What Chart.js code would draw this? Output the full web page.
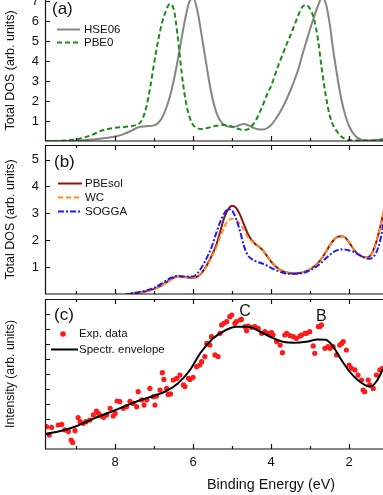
<!DOCTYPE html>
<html>
<head>
<meta charset="utf-8">
<script src="https://cdn.jsdelivr.net/npm/chart.js@4.4.0/dist/chart.umd.min.js"></script>
<style>
  html, body { margin: 0; padding: 0; background: #fff; }
  #wrap { position: relative; width: 383px; height: 495px; overflow: hidden; }
  .panel { position: absolute; left: 0; width: 383px; }
  #panelA { top: 0; height: 150px; }
  #panelB { top: 145px; height: 155px; }
  #panelC { top: 299px; height: 196px; }
</style>
</head>
<body>
<div id="wrap">
  <div class="panel" id="panelA"><canvas id="chartA"></canvas></div>
  <div class="panel" id="panelB"><canvas id="chartB"></canvas></div>
  <div class="panel" id="panelC"><canvas id="chartC"></canvas></div>
</div>
<script>
/* ~~~~~~~~~~ DATA ~~~~~~~~~~ */

// shared x ticks (binding energy, eV)
const xMajor = [2, 4, 6, 8];
const xMinor = [3, 5, 7, 9];

// panel (a): hybrid functionals
const energyA = [9.8, 9.6, 9.4, 9.2, 9.0, 8.8, 8.6, 8.4, 8.2, 8.0, 7.8, 7.6,
  7.5, 7.4, 7.3, 7.2, 7.1, 7.0, 6.9, 6.8, 6.7, 6.6, 6.5, 6.4, 6.3, 6.2, 6.1, 6.0, 5.9, 5.8, 5.7, 5.6, 5.5, 5.4, 5.3, 5.2, 5.1, 5.0,
  4.9, 4.8, 4.7, 4.6, 4.5, 4.4, 4.3, 4.2, 4.1, 4.0, 3.9, 3.8, 3.7, 3.6, 3.5, 3.4, 3.3, 3.2, 3.1, 3.0,
  2.9, 2.8, 2.7, 2.6, 2.5, 2.4, 2.3, 2.2, 2.1, 2.0, 1.9, 1.8, 1.6, 1.4, 1.2, 1.1];
const hse06 = [0, 0, 0, 0.01, 0.02, 0.04, 0.07, 0.11, 0.16, 0.22, 0.33, 0.5,
  0.6, 0.68, 0.72, 0.74, 0.75, 0.78, 0.9, 1.15, 1.6, 2.2, 3.0, 4.0, 5.1, 6.15, 6.95, 7.15, 6.6, 5.5, 4.3, 3.1, 2.1, 1.4, 1.0, 0.8, 0.72, 0.7,
  0.73, 0.8, 0.85, 0.8, 0.7, 0.62, 0.58, 0.58, 0.65, 0.8, 1.05, 1.35, 1.7, 2.1, 2.55, 3.05, 3.6, 4.3, 4.95, 5.6,
  6.2, 6.75, 7.15, 6.9, 5.9, 4.45, 3.2, 2.1, 1.3, 0.75, 0.4, 0.18, 0.03, 0.04, 0.07, 0.08];
const pbe0 = [0, 0, 0.01, 0.03, 0.08, 0.17, 0.3, 0.48, 0.6, 0.66, 0.7, 0.74,
  0.78, 0.85, 1.1, 1.7, 2.7, 3.9, 5.0, 5.9, 6.5, 6.85, 6.6, 5.3, 3.5, 2.1, 1.25, 0.8, 0.65, 0.6, 0.62, 0.67, 0.72, 0.76, 0.79, 0.8, 0.78, 0.72,
  0.65, 0.58, 0.55, 0.58, 0.75, 1.0, 1.4, 1.85, 2.35, 2.75, 3.3, 3.85, 4.35, 4.85, 5.3, 5.8, 6.3, 6.7, 6.8, 6.6,
  6.1, 5.1, 3.6, 2.3, 1.3, 0.75, 0.45, 0.22, 0.1, 0.05, 0.03, 0.02, 0.02, 0.03, 0.06, 0.08];
const yTicksA = [1, 2, 3, 4, 5, 6, 7];

// panel (b): GGA functionals
const energyB = [7.8, 7.6, 7.4, 7.2, 7.0, 6.8, 6.6, 6.4, 6.2, 6.0,
  5.9, 5.8, 5.7, 5.6, 5.5, 5.4, 5.3, 5.2, 5.1, 5.0, 4.9, 4.8, 4.7, 4.6, 4.5, 4.4, 4.3, 4.2, 4.1, 4.0,
  3.9, 3.8, 3.7, 3.6, 3.5, 3.4, 3.3, 3.2, 3.1, 3.0, 2.9, 2.8, 2.7, 2.6, 2.5, 2.4, 2.3, 2.2, 2.1, 2.0,
  1.9, 1.8, 1.7, 1.6, 1.5, 1.4, 1.3, 1.2, 1.1];
const pbesol = [-0.05, 0.0, 0.04, 0.1, 0.19, 0.33, 0.52, 0.65, 0.63, 0.6,
  0.64, 0.75, 0.95, 1.2, 1.5, 1.85, 2.35, 2.85, 3.15, 3.28, 3.2, 2.95, 2.6, 2.25, 2.0, 1.85, 1.75, 1.6, 1.4, 1.2,
  1.05, 0.93, 0.85, 0.8, 0.77, 0.76, 0.77, 0.8, 0.85, 0.92, 1.02, 1.15, 1.33, 1.55, 1.8, 2.0, 2.12, 2.15, 2.1, 1.92,
  1.7, 1.52, 1.42, 1.37, 1.38, 1.55, 1.95, 2.5, 3.15];
const wc = [-0.05, 0.0, 0.03, 0.09, 0.18, 0.31, 0.5, 0.63, 0.62, 0.6,
  0.64, 0.74, 0.93, 1.17, 1.45, 1.75, 2.15, 2.5, 2.72, 2.8, 2.75, 2.6, 2.38, 2.12, 1.97, 1.85, 1.75, 1.6, 1.4, 1.2,
  1.05, 0.93, 0.85, 0.8, 0.77, 0.76, 0.77, 0.8, 0.85, 0.92, 1.02, 1.15, 1.33, 1.55, 1.8, 2.0, 2.12, 2.15, 2.1, 1.92,
  1.7, 1.52, 1.42, 1.37, 1.38, 1.55, 1.95, 2.5, 3.15];
const sogga = [-0.05, 0.02, 0.07, 0.13, 0.23, 0.4, 0.58, 0.68, 0.65, 0.65,
  0.75, 0.95, 1.2, 1.5, 1.85, 2.3, 2.7, 3.0, 3.15, 3.1, 2.8, 2.35, 1.8, 1.45, 1.3, 1.22, 1.17, 1.12, 1.05, 0.97,
  0.9, 0.84, 0.79, 0.76, 0.75, 0.75, 0.76, 0.78, 0.82, 0.88, 0.96, 1.06, 1.18, 1.32, 1.45, 1.56, 1.63, 1.66, 1.65, 1.62,
  1.58, 1.5, 1.42, 1.35, 1.31, 1.35, 1.55, 2.0, 2.8];
const yTicksB = [1, 2, 3, 4, 5];

// panel (c): experiment
const expEnergy = [9.76, 9.69, 9.63, 9.46, 9.37, 9.29, 9.20, 9.13, 9.09, 9.03,
  8.95, 8.90, 8.82, 8.75, 8.65, 8.56, 8.48, 8.43, 8.35, 8.30,
  8.22, 8.13, 8.05, 8.00, 7.95, 7.88, 7.79, 7.71, 7.62, 7.54,
  7.45, 7.41, 7.32, 7.26, 7.19, 7.11, 7.02, 6.98, 6.94, 6.85,
  6.79, 6.75, 6.68, 6.64, 6.58, 6.51, 6.42, 6.34, 6.25, 6.21,
  6.12, 6.08, 6.00, 5.91, 5.83, 5.78, 5.70, 5.65, 5.57, 5.53,
  5.44, 5.36, 5.31, 5.27, 5.21, 5.14, 5.06, 5.01, 4.93, 4.89,
  4.80, 4.76, 4.67, 4.63, 4.59, 4.50, 4.42, 4.33, 4.24, 4.16,
  4.07, 3.99, 3.95, 3.86, 3.77, 3.71, 3.65, 3.60, 3.52, 3.43,
  3.35, 3.26, 3.22, 3.13, 3.09, 3.01, 2.92, 2.88, 2.79, 2.75,
  2.71, 2.62, 2.54, 2.49, 2.41, 2.32, 2.24, 2.19, 2.15, 2.07,
  2.00, 1.94, 1.85, 1.77, 1.68, 1.64, 1.60, 1.51, 1.47, 1.38,
  1.30, 1.21, 1.14];
const expIntensity = [1.49, 0.93, 1.44, 1.60, 1.64, 1.27, 1.16, 0.60, 0.44, 1.22,
  2.09, 1.82, 1.71, 1.82, 1.93, 2.27, 2.53, 2.38, 2.20, 2.11,
  2.27, 2.71, 2.20, 2.38, 3.20, 3.16, 2.71, 2.82, 3.18, 3.04,
  2.82, 3.82, 3.27, 2.93, 3.27, 4.04, 3.49, 2.93, 3.53, 3.93,
  5.09, 4.64, 4.04, 3.64, 3.67, 4.60, 4.71, 4.93, 4.27, 4.16,
  4.71, 4.64, 4.78, 5.49, 5.60, 5.82, 6.16, 7.04, 6.93, 7.49,
  6.27, 6.16, 7.71, 8.27, 8.38, 8.49, 8.82, 8.93, 8.38, 8.49,
  8.60, 8.64, 8.16, 7.89, 8.20, 8.11, 8.16, 8.04, 7.71, 7.82,
  7.71, 7.76, 7.60, 7.16, 6.93, 6.42, 7.60, 7.71, 7.56, 7.49,
  7.38, 7.53, 7.60, 7.71, 7.71, 7.82, 6.87, 6.38, 8.16, 8.16,
  8.27, 6.71, 6.82, 6.71, 6.82, 6.27, 6.93, 7.04, 7.16, 6.60,
  5.60, 5.38, 5.27, 4.93, 4.60, 3.93, 3.82, 4.60, 4.27, 4.04,
  4.93, 5.27, 5.38];
const envEnergy = [9.8, 9.4, 9.0, 8.6, 8.2, 7.8, 7.4, 7.0, 6.7, 6.4, 6.1, 5.8, 5.5, 5.2, 4.9, 4.6,
  4.3, 4.0, 3.7, 3.4, 3.1, 2.8, 2.6, 2.4, 2.2, 2.0, 1.8, 1.6, 1.45, 1.3, 1.13];
const envIntensity = [1.0, 1.2, 1.52, 1.98, 2.38, 2.8, 3.22, 3.55, 3.85, 4.35, 5.2, 6.45, 7.35, 7.88, 8.15, 8.15,
  7.85, 7.45, 7.15, 7.08, 7.15, 7.3, 7.28, 6.8, 5.95, 5.2, 4.65, 4.28, 4.16, 4.5, 5.33];
const yTicksC = [1, 2, 3, 4, 5, 6, 7, 8, 9];

/* ~~~~~~~~~~ HELPERS ~~~~~~~~~~ */

const FONT = "'Liberation Sans', Arial, sans-serif";
const xRange = { min: 1.13, max: 9.8 };

const toPoints = (xs, ys) => xs.map((x, i) => ({ x: x, y: ys[i] }));

const curve = (label, xs, ys, color, dash, order) => ({
  label: label,
  data: toPoints(xs, ys),
  borderColor: color,
  borderWidth: 2,
  borderDash: dash,
  pointRadius: 0,
  fill: false,
  cubicInterpolationMode: 'monotone',
  order: order
});

// keep the plot frames where the figure has them: no label padding
const noPad = s => {
  s.paddingTop = 0; s.paddingBottom = 0;
  s.paddingLeft = 0; s.paddingRight = 0;
};

// frame, inward ticks, panel letter, legend, annotations
const deco = {
  id: 'deco',
  afterDraw(chart, args, o) {
    const { ctx, chartArea: a, scales: { x, y } } = chart;
    ctx.save();
    ctx.strokeStyle = '#111';
    ctx.lineWidth = 1.2;
    ctx.beginPath();
    if (o.top) { ctx.moveTo(a.left, a.top + 0.5); ctx.lineTo(a.right, a.top + 0.5); }
    ctx.moveTo(a.left, a.bottom); ctx.lineTo(a.right, a.bottom);
    ctx.moveTo(a.left + 0.5, a.top); ctx.lineTo(a.left + 0.5, a.bottom);
    const xt = (vals, len) => vals.forEach(v => {
      const px = Math.round(x.getPixelForValue(v)) + 0.5;
      ctx.moveTo(px, a.bottom); ctx.lineTo(px, a.bottom - len);
      if (o.top) { ctx.moveTo(px, a.top); ctx.lineTo(px, a.top + len); }
    });
    xt(xMajor, 5);
    xt(xMinor, 3);
    (o.yMajor || []).forEach(v => {
      const py = Math.round(y.getPixelForValue(v)) + 0.5;
      ctx.moveTo(a.left, py); ctx.lineTo(a.left + 5, py);
    });
    ctx.stroke();

    ctx.fillStyle = '#111';
    ctx.textBaseline = 'middle';
    ctx.textAlign = 'left';
    ctx.font = '17px ' + FONT;
    ctx.fillText(o.tag.text, o.tag.x, o.tag.y);

    ctx.font = '11.5px ' + FONT;
    o.legend.forEach(item => {
      const ds = chart.data.datasets[item.index];
      if (item.dot) {
        ctx.fillStyle = ds.pointBackgroundColor;
        ctx.beginPath();
        ctx.arc(item.x0 + 12, item.y, 2.8, 0, Math.PI * 2);
        ctx.fill();
      } else {
        ctx.strokeStyle = ds.borderColor;
        ctx.lineWidth = ds.borderWidth;
        ctx.setLineDash(ds.borderDash || []);
        ctx.beginPath();
        ctx.moveTo(item.x0, item.y); ctx.lineTo(item.x1, item.y);
        ctx.stroke();
        ctx.setLineDash([]);
      }
      ctx.fillStyle = '#111';
      ctx.fillText(ds.label, item.tx, item.y);
    });

    ctx.font = '16px ' + FONT;
    ctx.textAlign = 'center';
    (o.notes || []).forEach(n => {
      ctx.fillText(n.text, x.getPixelForValue(n.e), y.getPixelForValue(n.v));
    });

    // x axis title sits off-centre because the original frame runs past the crop
    if (o.xTitle) {
      ctx.font = '14.3px ' + FONT;
      ctx.fillText(o.xTitle.text, o.xTitle.x, o.xTitle.y);
    }
    ctx.restore();
  }
};

const yAxis = (max, ticks, title, showLabels, titleSize) => ({
  min: 0,
  max: max,
  afterFit: s => { s.width = 45; noPad(s); },
  afterBuildTicks: s => { s.ticks = ticks.map(v => ({ value: v })); },
  border: { display: false },
  grid: { display: false, drawTicks: false },
  ticks: { display: showLabels, padding: 6, color: '#111', font: { family: FONT, size: 13 } },
  title: { display: true, text: title, color: '#111', font: { family: FONT, size: titleSize }, padding: { top: 3, bottom: 0 } }
});

const baseOptions = (padBottom) => ({
  responsive: true,
  maintainAspectRatio: false,
  animation: false,
  layout: { padding: { left: 0, right: 0, top: 0, bottom: padBottom }, autoPadding: false },
  events: []
});

/* ~~~~~~~~~~ CHARTS ~~~~~~~~~~ */

new Chart(document.getElementById('chartA'), {
  type: 'line',
  data: {
    datasets: [
      curve('HSE06', energyA, hse06, '#858585', [], 2),
      curve('PBE0', energyA, pbe0, '#1a8c1a', [5, 3], 1)
    ]
  },
  options: Object.assign(baseOptions(9), {
    plugins: {
      legend: { display: false }, tooltip: { enabled: false },
      deco: {
        top: false, yMajor: yTicksA,
        tag: { text: '(a)', x: 52, y: 9 },
        legend: [
          { index: 0, x0: 57, x1: 80, tx: 84, y: 29.5 },
          { index: 1, x0: 57, x1: 80, tx: 84, y: 42.5 }
        ]
      }
    },
    scales: {
      x: { type: 'linear', reverse: true, min: xRange.min, max: xRange.max, display: false },
      y: yAxis(7.05, yTicksA, 'Total DOS (arb. units)', true, 12.5)
    }
  }),
  plugins: [deco]
});

new Chart(document.getElementById('chartB'), {
  type: 'line',
  data: {
    datasets: [
      curve('PBEsol', energyB, pbesol, '#8b1414', [], 3),
      curve('WC', energyB, wc, '#ff8c1a', [5, 3], 2),
      curve('SOGGA', energyB, sogga, '#1a1aff', [6, 2, 2, 2], 1)
    ]
  },
  options: Object.assign(baseOptions(6), {
    plugins: {
      legend: { display: false }, tooltip: { enabled: false },
      deco: {
        top: true, yMajor: yTicksB,
        tag: { text: '(b)', x: 54, y: 17 },
        legend: [
          { index: 0, x0: 58, x1: 82, tx: 85, y: 38.5 },
          { index: 1, x0: 58, x1: 82, tx: 85, y: 52.5 },
          { index: 2, x0: 58, x1: 82, tx: 85, y: 66.5 }
        ]
      }
    },
    scales: {
      x: { type: 'linear', reverse: true, min: xRange.min, max: xRange.max, display: false },
      y: yAxis(5.54, yTicksB, 'Total DOS (arb. units)', true, 12.5)
    }
  }),
  plugins: [deco]
});

new Chart(document.getElementById('chartC'), {
  type: 'line',
  data: {
    datasets: [
      {
        label: 'Exp. data',
        data: toPoints(expEnergy, expIntensity),
        showLine: false,
        pointRadius: 2.6,
        pointBackgroundColor: '#ff1a1a',
        pointBorderWidth: 0,
        order: 2
      },
      curve('Spectr. envelope', envEnergy, envIntensity, '#000000', [], 1)
    ]
  },
  options: Object.assign(baseOptions(0), {
    plugins: {
      legend: { display: false }, tooltip: { enabled: false },
      deco: {
        top: true, yMajor: yTicksC,
        tag: { text: '(c)', x: 54, y: 16 },
        legend: [
          { index: 0, dot: true, x0: 51, x1: 78, tx: 79, y: 35 },
          { index: 1, x0: 51, x1: 78, tx: 79, y: 50.5 }
        ],
        notes: [
          { text: 'C', e: 4.67, v: 9.15 },
          { text: 'B', e: 2.71, v: 8.82 }
        ],
        xTitle: { text: 'Binding Energy (eV)', x: 271, y: 186 }
      }
    },
    scales: {
      x: {
        type: 'linear', reverse: true, min: xRange.min, max: xRange.max,
        afterFit: s => { s.height = 46; noPad(s); },
        afterBuildTicks: s => { s.ticks = xMajor.map(v => ({ value: v })); },
        border: { display: false },
        grid: { display: false, drawTicks: false },
        ticks: { padding: 6, color: '#111', font: { family: FONT, size: 13 } },
        title: { display: false }
      },
      y: yAxis(10, yTicksC, 'Intensity (arb. units)', false, 12.3)
    }
  }),
  plugins: [deco]
});
</script>
</body>
</html>
